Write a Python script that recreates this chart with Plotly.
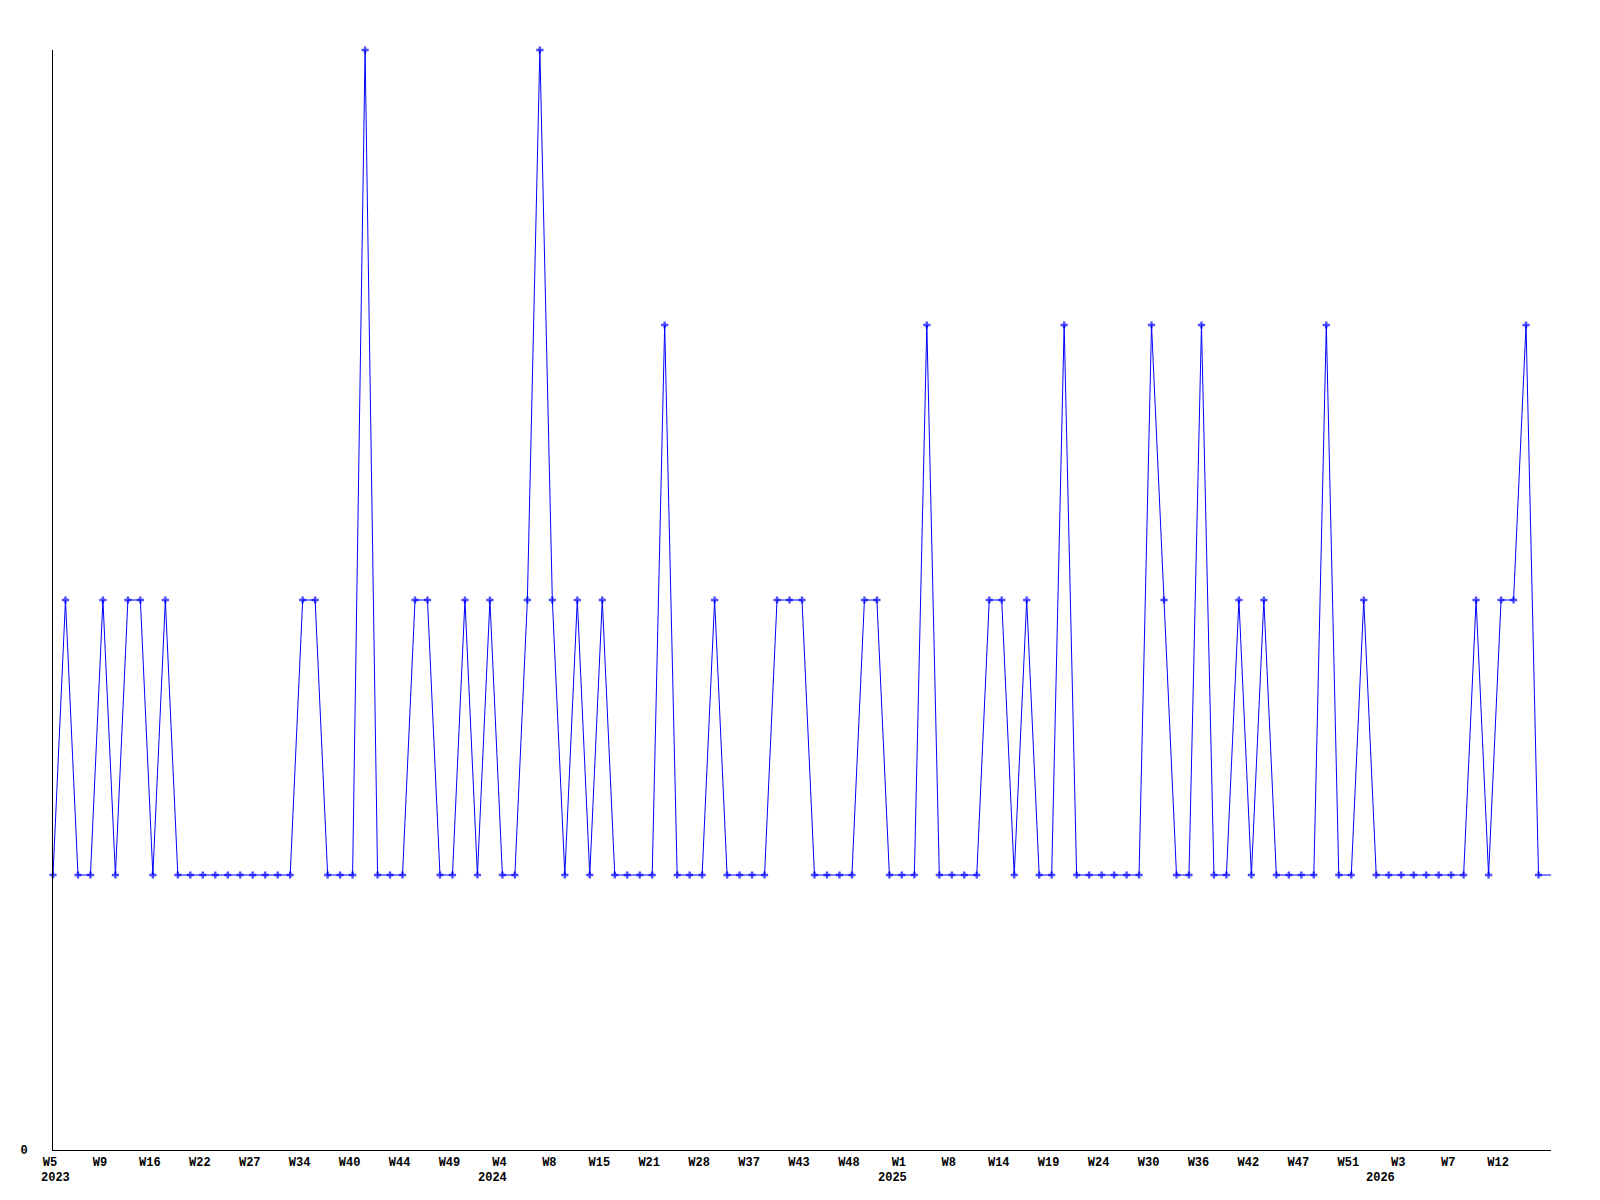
import plotly.graph_objects as go

# ---- data ----
weeks = [
    "2023-W05", "2023-W06", "2023-W07", "2023-W08", "2023-W09", "2023-W10", "2023-W12", "2023-W14",
    "2023-W16", "2023-W17", "2023-W19", "2023-W20", "2023-W22", "2023-W23", "2023-W24", "2023-W26",
    "2023-W27", "2023-W29", "2023-W31", "2023-W32", "2023-W34", "2023-W35", "2023-W37", "2023-W38",
    "2023-W40", "2023-W41", "2023-W42", "2023-W43", "2023-W44", "2023-W45", "2023-W46", "2023-W48",
    "2023-W49", "2023-W51", "2023-W52", "2024-W02", "2024-W04", "2024-W05", "2024-W06", "2024-W07",
    "2024-W08", "2024-W10", "2024-W11", "2024-W13", "2024-W15", "2024-W16", "2024-W18", "2024-W19",
    "2024-W21", "2024-W22", "2024-W24", "2024-W26", "2024-W28", "2024-W30", "2024-W32", "2024-W35",
    "2024-W37", "2024-W38", "2024-W40", "2024-W41", "2024-W43", "2024-W44", "2024-W46", "2024-W47",
    "2024-W48", "2024-W49", "2024-W51", "2024-W52", "2025-W01", "2025-W03", "2025-W05", "2025-W06",
    "2025-W08", "2025-W09", "2025-W11", "2025-W12", "2025-W14", "2025-W15", "2025-W16", "2025-W18",
    "2025-W19", "2025-W20", "2025-W22", "2025-W23", "2025-W24", "2025-W25", "2025-W27", "2025-W28",
    "2025-W30", "2025-W31", "2025-W33", "2025-W34", "2025-W36", "2025-W37", "2025-W39", "2025-W40",
    "2025-W42", "2025-W43", "2025-W44", "2025-W46", "2025-W47", "2025-W48", "2025-W49", "2025-W50",
    "2025-W51", "2025-W52", "2026-W01", "2026-W02", "2026-W03", "2026-W04", "2026-W05", "2026-W06",
    "2026-W07", "2026-W08", "2026-W09", "2026-W11", "2026-W12", "2026-W13", "2026-W14", "2026-W15",
    "2026-W16",
]

counts = [
    1, 2, 1, 1, 2, 1, 2, 2, 1, 2, 1, 1, 1, 1, 1, 1,
    1, 1, 1, 1, 2, 2, 1, 1, 1, 4, 1, 1, 1, 2, 2, 1,
    1, 2, 1, 2, 1, 1, 2, 4, 2, 1, 2, 1, 2, 1, 1, 1,
    1, 3, 1, 1, 1, 2, 1, 1, 1, 1, 2, 2, 2, 1, 1, 1,
    1, 2, 2, 1, 1, 1, 3, 1, 1, 1, 1, 2, 2, 1, 2, 1,
    1, 3, 1, 1, 1, 1, 1, 1, 3, 2, 1, 1, 3, 1, 1, 2,
    1, 2, 1, 1, 1, 1, 3, 1, 1, 2, 1, 1, 1, 1, 1, 1,
    1, 1, 2, 1, 2, 2, 3, 1, 1,
]

tick_weeks = [
    "2023-W05", "2023-W09", "2023-W16", "2023-W22", "2023-W27", "2023-W34", "2023-W40", "2023-W44",
    "2023-W49", "2024-W04", "2024-W08", "2024-W15", "2024-W21", "2024-W28", "2024-W37", "2024-W43",
    "2024-W48", "2025-W01", "2025-W08", "2025-W14", "2025-W19", "2025-W24", "2025-W30", "2025-W36",
    "2025-W42", "2025-W47", "2025-W51", "2026-W03", "2026-W07", "2026-W12",
]
tick_labels = [
    "W5", "W9", "W16", "W22", "W27", "W34", "W40", "W44", "W49", "W4", "W8", "W15", "W21", "W28",
    "W37", "W43", "W48", "W1", "W8", "W14", "W19", "W24", "W30", "W36", "W42", "W47", "W51", "W3",
    "W7", "W12",
]
year_weeks = ["2023-W05", "2024-W04", "2025-W01", "2026-W03"]
year_labels = ["2023", "2024", "2025", "2026"]

# ---- style ----
FONT = dict(family="Liberation Mono, DejaVu Sans Mono, monospace", size=12, color="black")
year_xshift = [2, -10, -9, -21]
marker_sizes = [6] * (len(counts) - 1) + [0]

fig = go.Figure()
fig.add_trace(go.Scatter(
    x=weeks, y=counts, mode="lines+markers",
    line=dict(color="#0000ff", width=1),
    marker=dict(symbol="cross", size=marker_sizes, color="#0000ff", line=dict(width=0)),
    cliponaxis=False, showlegend=False,
))

for wk, lab, sh in zip(year_weeks, year_labels, year_xshift):
    fig.add_annotation(x=wk, y=0, xref="x", yref="paper", text="<b>%s</b>" % lab,
                       showarrow=False, xanchor="center", yanchor="middle",
                       xshift=sh, yshift=-28, font=FONT)

# page body has a default margin; margins compensate so the plot area
# sits at x 50..1551, y 49..1150 in the window
fig.update_layout(
    width=1600, height=1200,
    margin=dict(l=38, r=57, t=42, b=58),
    paper_bgcolor="white", plot_bgcolor="white",
    font=FONT,
)
fig.update_xaxes(
    type="category", categoryorder="array", categoryarray=weeks,
    range=[0, len(weeks) - 1],
    tickvals=tick_weeks, ticktext=["<b>%s</b>" % t for t in tick_labels],
    showgrid=False, zeroline=False, showline=True, linecolor="black", linewidth=1,
    ticks="", ticklabelshift=-3, ticklabelstandoff=1, tickfont=FONT,
)
fig.update_yaxes(
    range=[0, 4], tickvals=[0], ticktext=["<b>0</b>"],
    showgrid=False, zeroline=False, showline=True, linecolor="black", linewidth=1,
    ticks="", ticklabelstandoff=22, tickfont=FONT,
)

fig.write_html("out.html")
